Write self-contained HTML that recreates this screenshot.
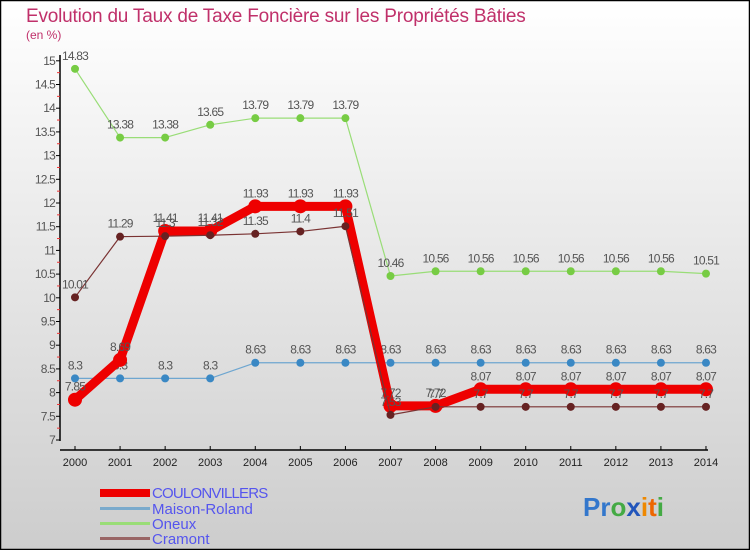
<!DOCTYPE html>
<html><head><meta charset="utf-8"><style>
html,body{margin:0;padding:0}
body{width:750px;height:550px;overflow:hidden;font-family:"Liberation Sans",sans-serif}
</style></head><body>
<svg id="chart" width="750" height="550" xmlns="http://www.w3.org/2000/svg">
<defs><linearGradient id="bg" x1="0" y1="0" x2="0" y2="1"><stop offset="0" stop-color="#ffffff"/><stop offset="1" stop-color="#cdcdcd"/></linearGradient></defs>
<rect x="0.5" y="0.5" width="749" height="549" fill="url(#bg)" stroke="#000" stroke-width="1.5"/>
<text x="26" y="22" font-size="19" fill="#c0306a" letter-spacing="-0.2">Evolution du Taux de Taxe Foncière sur les Propriétés Bâties</text>
<text x="26" y="39" font-size="12" fill="#c0306a">(en %)</text>
<g id="axes"></g>
<g id="series"></g>
<g id="legend">
<rect x="100" y="489" width="50" height="8" fill="#ee0000"/>
<text x="152" y="498" font-size="15" fill="#5555ee" letter-spacing="-0.8">COULONVILLERS</text>
<rect x="100" y="507" width="50" height="3" fill="#7aaacc"/>
<text x="152" y="514" font-size="15" fill="#5555ee">Maison-Roland</text>
<rect x="100" y="522" width="50" height="3" fill="#99dd77"/>
<text x="152" y="529" font-size="15" fill="#5555ee">Oneux</text>
<rect x="100" y="537" width="50" height="3" fill="#996666"/>
<text x="152" y="544" font-size="15" fill="#5555ee">Cramont</text>
</g>
<text x="583" y="516" font-size="26" font-weight="bold"><tspan fill="#3377cc">Pr</tspan><tspan fill="#44aa44">o</tspan><tspan fill="#2255bb">x</tspan><tspan fill="#ee8800">i</tspan><tspan fill="#ee6600">t</tspan><tspan fill="#44aa44">i</tspan></text>
</svg>
<script>
const years=["2000","2001","2002","2003","2004","2005","2006","2007","2008","2009","2010","2011","2012","2013","2014"];
const yTicks=[7,7.5,8,8.5,9,9.5,10,10.5,11,11.5,12,12.5,13,13.5,14,14.5,15];
const coulonvillers=[7.85,8.69,11.41,11.41,11.93,11.93,11.93,7.72,7.72,8.07,8.07,8.07,8.07,8.07,8.07];
const maisonRoland=[8.3,8.3,8.3,8.3,8.63,8.63,8.63,8.63,8.63,8.63,8.63,8.63,8.63,8.63,8.63];
const oneux=[14.83,13.38,13.38,13.65,13.79,13.79,13.79,10.46,10.56,10.56,10.56,10.56,10.56,10.56,10.51];
const cramont=[10.01,11.29,11.3,11.32,11.35,11.4,11.51,7.53,7.7,7.7,7.7,7.7,7.7,7.7,7.7];
const NS="http://www.w3.org/2000/svg";
const X=i=>75+i*45.07, Y=v=>440-(v-7)*47.4;
function mk(tag,attrs,parent,txt){const e=document.createElementNS(NS,tag);for(const k in attrs)e.setAttribute(k,attrs[k]);if(txt!==undefined)e.textContent=txt;parent.appendChild(e);return e;}
const ax=document.getElementById('axes');
let l=mk('line',{x1:60,y1:55,x2:60,y2:441,stroke:'#000','stroke-width':1.5},ax);


l=mk('line',{x1:60,y1:440,x2:708,y2:440,stroke:'#000','stroke-width':1.5,transform:'translate(0,10)'},ax);


yTicks.forEach(v=>{
  mk('line',{x1:56,y1:Y(v),x2:60,y2:Y(v),stroke:'#000'},ax);
  mk('line',{x1:57,y1:Y(v+0.25),x2:60,y2:Y(v+0.25),stroke:v<15?'#e33':'none'},ax);
  const t=mk('text',{x:55,y:Y(v)+4,'font-size':12,fill:'#555','text-anchor':'end','letter-spacing':'-0.8'},ax,String(v));
  
  
});
years.forEach((yr,i)=>{
  mk('line',{x1:X(i),y1:446,x2:X(i),y2:450,stroke:'#000'},ax);
  const t=mk('text',{x:X(i),y:466,'font-size':11,fill:'#222','text-anchor':'middle'},ax,yr);
  
  
});
const sg=document.getElementById('series');
function series(name,data,color,w,r,fill){
  const g=mk('g',{},sg);
  
  
  const p=mk('polyline',{points:data.map((v,i)=>X(i)+','+Y(v)).join(' '),fill:'none',stroke:color,'stroke-width':w,'stroke-linejoin':'round'},g);
  
  
  data.forEach((v,i)=>{
    const c=mk('circle',{cx:X(i),cy:Y(v),r:r,fill:fill},g);
    
    
    const t=mk('text',{x:X(i),y:Y(v)-9,'font-size':12,fill:'#555','text-anchor':'middle','letter-spacing':'-0.8'},g,String(v));
    
    
  });
}
series('maison-roland',maisonRoland,'#6ea6d0',1.2,4,'#3a88c4');
series('oneux',oneux,'#99dd77',1.2,4,'#77cc44');
series('coulonvillers',coulonvillers,'#ee0000',9,7,'#ee0000');
series('cramont',cramont,'#7a3333',1.2,4,'#662222');
</script>
</body></html>
